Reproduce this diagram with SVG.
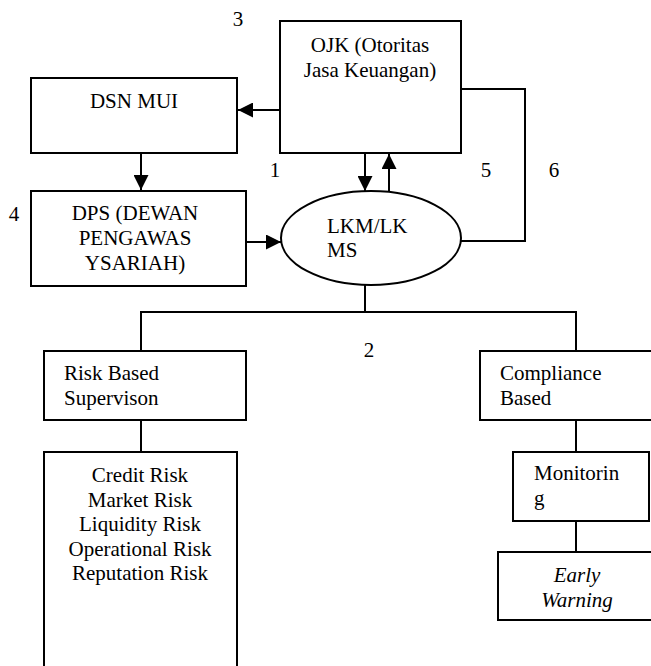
<svg xmlns="http://www.w3.org/2000/svg" width="651" height="666" viewBox="0 0 651 666">
<style>
.box{fill:#fff;stroke:#000;stroke-width:2}
.ln{fill:none;stroke:#000;stroke-width:2}
text{font-family:"Liberation Serif","DejaVu Serif","Noto Serif",serif;font-size:21px;fill:#000}
.c{text-anchor:middle}
.i{font-style:italic}
</style>
<defs>
<marker id="ah" markerUnits="userSpaceOnUse" markerWidth="15" markerHeight="15" refX="15" refY="7.5" orient="auto">
<path d="M0,0 L15,7.5 L0,15 z" fill="#000"/>
</marker>
</defs>
<g id="connectors">
<line class="ln" x1="280" y1="110" x2="238" y2="110" marker-end="url(#ah)"/>
<line class="ln" x1="141" y1="153" x2="141" y2="190" marker-end="url(#ah)"/>
<line class="ln" x1="365" y1="153" x2="365" y2="191" marker-end="url(#ah)"/>
<line class="ln" x1="389" y1="191" x2="389" y2="154" marker-end="url(#ah)"/>
<line class="ln" x1="246" y1="242" x2="281" y2="242" marker-end="url(#ah)"/>
<polyline class="ln" points="461,89 525,89 525,241 460,241"/>
<polyline class="ln" points="365,285 365,312"/>
<polyline class="ln" points="141,351 141,312 576,312 576,351"/>
<line class="ln" x1="141" y1="420" x2="141" y2="452"/>
<line class="ln" x1="576" y1="420" x2="576" y2="452"/>
<line class="ln" x1="576" y1="521" x2="576" y2="552"/>
</g>
<g id="labels">
<text x="238" y="26" class="c">3</text>
<text x="275" y="177" class="c">1</text>
<text x="486" y="177" class="c">5</text>
<text x="554" y="177" class="c">6</text>
<text x="14" y="221" class="c">4</text>
<text x="369" y="357" class="c">2</text>
</g>
<g id="ojk">
<rect class="box" x="280" y="21" width="181" height="132"/>
<text x="370" y="52" class="c">OJK (Otoritas</text>
<text x="370" y="77" class="c">Jasa Keuangan)</text>
</g>
<g id="dsn">
<rect class="box" x="31" y="78" width="206" height="75"/>
<text x="134" y="108" class="c">DSN MUI</text>
</g>
<g id="dps">
<rect class="box" x="31" y="191" width="215" height="95"/>
<text x="135" y="220" class="c">DPS (DEWAN</text>
<text x="135" y="245" class="c">PENGAWAS</text>
<text x="135" y="270" class="c">YSARIAH)</text>
</g>
<g id="lkm">
<ellipse class="box" cx="371" cy="238" rx="90" ry="47"/>
<text x="327" y="233">LKM/LK</text>
<text x="327" y="257">MS</text>
</g>
<g id="risk-based">
<rect class="box" x="44" y="351" width="202" height="69"/>
<text x="64" y="380">Risk Based</text>
<text x="64" y="405">Supervison</text>
</g>
<g id="compliance">
<rect class="box" x="480" y="351" width="180" height="69"/>
<text x="500" y="380">Compliance</text>
<text x="500" y="405">Based</text>
</g>
<g id="risk-list">
<rect class="box" x="44" y="452" width="193" height="240"/>
<text x="140" y="482" class="c">Credit Risk</text>
<text x="140" y="507" class="c">Market Risk</text>
<text x="140" y="531" class="c">Liquidity Risk</text>
<text x="140" y="556" class="c">Operational Risk</text>
<text x="140" y="580" class="c">Reputation Risk</text>
</g>
<g id="monitoring">
<rect class="box" x="513" y="452" width="136" height="69"/>
<text x="534" y="480">Monitorin</text>
<text x="534" y="505">g</text>
</g>
<g id="early-warning">
<rect class="box" x="498" y="552" width="170" height="68"/>
<text x="577" y="582" class="c i">Early</text>
<text x="577" y="607" class="c i">Warning</text>
</g>
</svg>
